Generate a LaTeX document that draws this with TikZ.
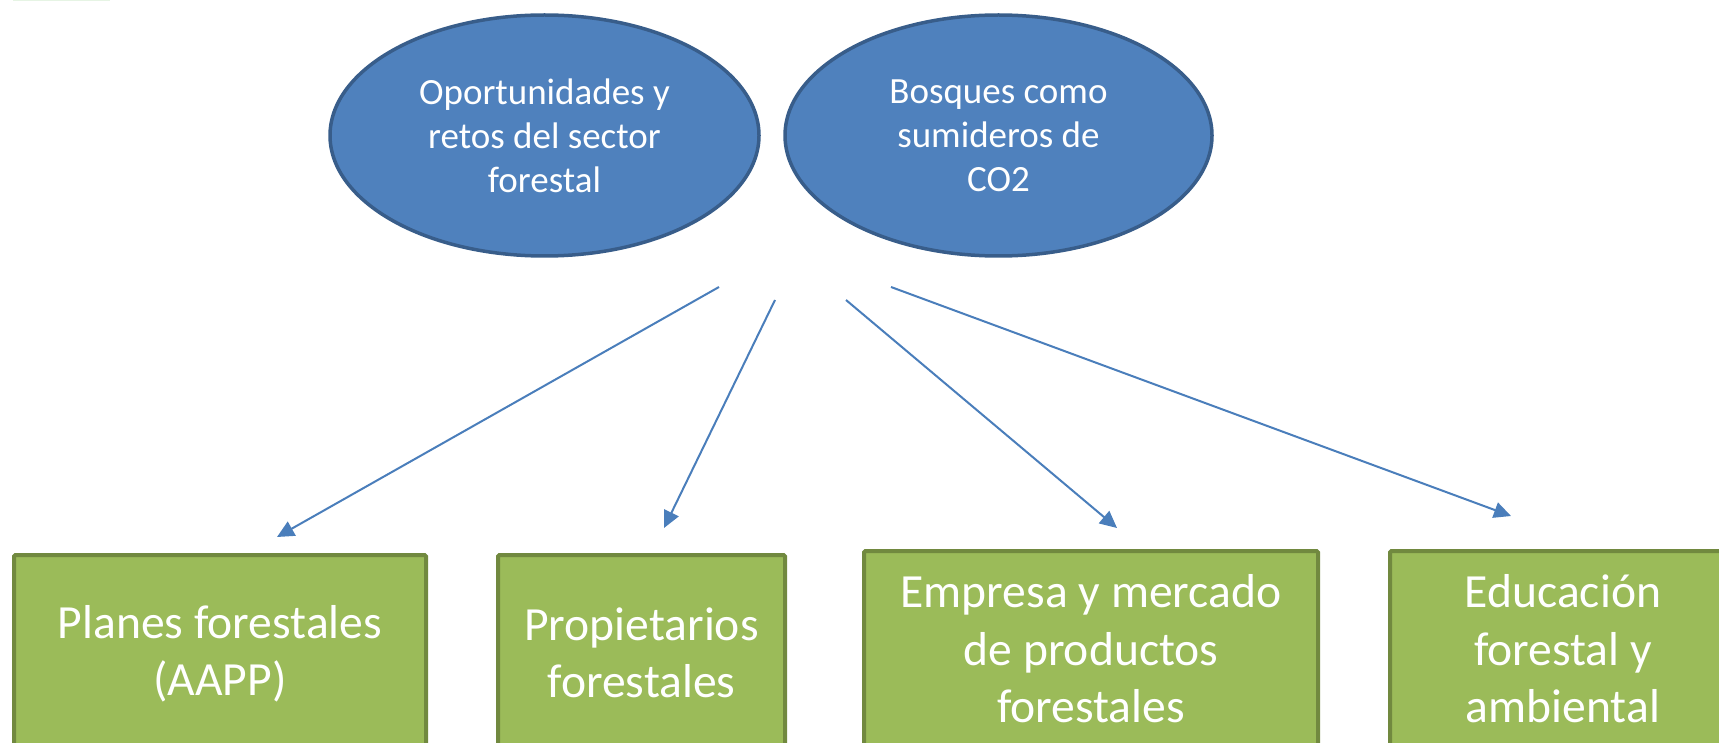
\documentclass[tikz,border=0pt]{standalone}
\usepackage{fontspec}
\setmainfont{Carlito}
\usetikzlibrary{shapes.geometric,arrows.meta}
\definecolor{ellfill}{HTML}{4F81BD}
\definecolor{elldraw}{HTML}{385D8A}
\definecolor{boxfill}{HTML}{9BBB59}
\definecolor{boxdraw}{HTML}{71893F}
\definecolor{arrowcol}{HTML}{4A7EBB}
\definecolor{faintgreen}{HTML}{E6F4E4}
\begin{document}
\begin{tikzpicture}[x=1pt,y=-1pt,
  topic/.style={ellipse, draw=elldraw, fill=ellfill, line width=3.5pt, inner sep=0pt,
    text=white, align=center, font=\fontsize{37}{44}\selectfont},
  area/.style={rectangle, draw=boxdraw, fill=boxfill, line width=4pt, rounded corners=1.5pt,
    inner sep=0pt, text=white, align=center, anchor=north, font=\fontsize{47.6}{57.5}\selectfont},
  link/.style={draw=arrowcol, line width=2pt, -{Triangle[length=17pt,width=16pt]}}]
\useasboundingbox (0,0) rectangle (1719,743);
\clip (0,0) rectangle (1719,743);
\fill[faintgreen] (13,0) rectangle (110,1.2);
% ellipses
\node[topic, minimum width=429pt, minimum height=241pt] (opor) at (544.5,135.5)
  {Oportunidades y\\retos del sector\\forestal};
\node[topic, minimum width=427pt, minimum height=241pt] (bosq) at (998.5,135.5)
  {Bosques como\\sumideros de\\CO2};
% boxes
\node[area, minimum width=412pt, minimum height=198pt] (plan) at (220,553)
  {Planes forestales\\(AAPP)};
\node[area, minimum width=287pt, minimum height=196pt] (prop) at (641.5,553)
  {Propietarios\\forestales};
\node[area, minimum width=454pt, minimum height=196pt] (empr) at (1091,549)
  {Empresa y mercado\\de productos\\forestales};
\node[area, minimum width=346pt, minimum height=196pt] (educ) at (1563,549)
  {Educación\\forestal y\\ambiental};
% connector ends
\coordinate (s1) at (719,287);
\coordinate (t1) at (277,537);
\coordinate (s2) at (775,300);
\coordinate (t2) at (664,528);
\coordinate (s3) at (846,300);
\coordinate (t3) at (1117,528);
\coordinate (s4) at (891,287);
\coordinate (t4) at (1511,516);
\draw[link] (s1) -- (t1);
\draw[link] (s2) -- (t2);
\draw[link] (s3) -- (t3);
\draw[link] (s4) -- (t4);
\end{tikzpicture}
\end{document}
